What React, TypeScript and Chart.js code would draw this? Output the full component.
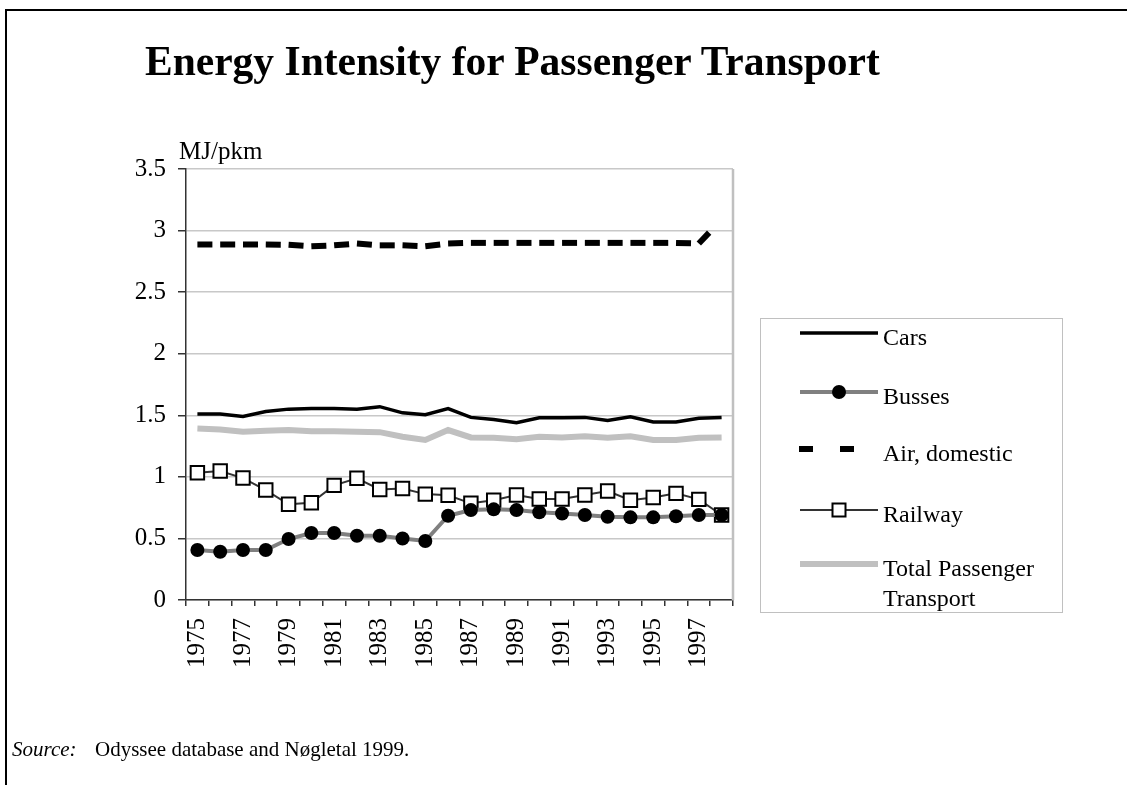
import React, { useEffect, useRef } from 'react';
import { Chart, registerables } from 'chart.js';

Chart.register(...registerables);

const SERIF = "'Liberation Serif', 'Times New Roman', serif";

const years = ['1975','1976','1977','1978','1979','1980','1981','1982','1983','1984','1985','1986','1987','1988','1989','1990','1991','1992','1993','1994','1995','1996','1997','1998'];

const seriesNames = ['Cars', 'Busses', 'Air, domestic', 'Railway', 'Total Passenger Transport'];

const cars = [1.51,1.51,1.49,1.53,1.55,1.555,1.555,1.55,1.57,1.52,1.505,1.555,1.483,1.466,1.44,1.48,1.48,1.483,1.458,1.488,1.445,1.445,1.475,1.483];
const busses = [0.406,0.392,0.406,0.406,0.495,0.544,0.544,0.522,0.522,0.5,0.479,0.684,0.73,0.736,0.73,0.712,0.703,0.69,0.676,0.671,0.671,0.68,0.69,0.69];
const airDomestic = [2.887,2.887,2.887,2.887,2.885,2.873,2.88,2.895,2.88,2.88,2.873,2.895,2.9,2.9,2.9,2.9,2.9,2.9,2.9,2.9,2.9,2.9,2.895,3.09];
const railway = [1.033,1.047,0.99,0.893,0.777,0.79,0.931,0.988,0.898,0.906,0.86,0.85,0.785,0.81,0.852,0.82,0.82,0.852,0.885,0.81,0.833,0.866,0.817,0.69];
const totalPassenger = [1.393,1.385,1.366,1.374,1.38,1.37,1.37,1.366,1.363,1.326,1.3,1.38,1.32,1.318,1.305,1.326,1.32,1.33,1.318,1.33,1.3,1.3,1.318,1.32];

const yMin = 0;
const yMax = 3.5;
const yStep = 0.5;

const legendRows = [333, 392, 449, 510, 564];

function wrapText(ctx: CanvasRenderingContext2D, text: string, maxW: number): string[] {
  const words = text.split(' ');
  const lines: string[] = [];
  let cur = '';
  for (const w of words) {
    const test = cur ? cur + ' ' + w : w;
    if (ctx.measureText(test).width > maxW && cur) {
      lines.push(cur);
      cur = w;
    } else cur = test;
  }
  if (cur) lines.push(cur);
  return lines;
}

const customPlugin = {
  id: 'customDeco',
  beforeDatasetsDraw(chart: any) {
    const { ctx, chartArea } = chart;
    ctx.save();
    ctx.strokeStyle = '#c0c0c0';
    ctx.lineWidth = 2.5;
    ctx.beginPath();
    ctx.moveTo(chartArea.right, chartArea.top);
    ctx.lineTo(chartArea.right, chartArea.bottom);
    ctx.stroke();
    ctx.restore();
  },
  afterDraw(chart: any) {
    const ctx: CanvasRenderingContext2D = chart.ctx;
    ctx.save();
    ctx.strokeStyle = '#c0c0c0';
    ctx.lineWidth = 1;
    ctx.strokeRect(760.5, 318.5, 302, 294);
    const x1 = 800;
    const x2 = 878;
    const xm = 839;
    chart.data.datasets.forEach((ds: any, i: number) => {
      const y = legendRows[i];
      ctx.save();
      ctx.strokeStyle = ds.borderColor;
      ctx.lineWidth = ds.borderWidth;
      ctx.lineCap = 'butt';
      if (ds.borderDash && ds.borderDash.length) {
        ctx.setLineDash([14, 27]);
        ctx.beginPath();
        ctx.moveTo(799, y);
        ctx.lineTo(x2, y);
        ctx.stroke();
      } else {
        ctx.beginPath();
        ctx.moveTo(x1, y);
        ctx.lineTo(x2, y);
        ctx.stroke();
      }
      ctx.setLineDash([]);
      if (ds.pointRadius > 0) {
        if (ds.pointStyle === 'rect') {
          ctx.fillStyle = ds.pointBackgroundColor;
          ctx.strokeStyle = ds.pointBorderColor;
          ctx.lineWidth = ds.pointBorderWidth;
          ctx.fillRect(xm - 6.5, y - 6.5, 13, 13);
          ctx.strokeRect(xm - 6.5, y - 6.5, 13, 13);
        } else {
          ctx.fillStyle = ds.pointBackgroundColor;
          ctx.beginPath();
          ctx.arc(xm, y, 7, 0, Math.PI * 2);
          ctx.fill();
        }
      }
      ctx.restore();
      ctx.fillStyle = '#000';
      ctx.font = `24px ${SERIF}`;
      ctx.textAlign = 'left';
      ctx.textBaseline = 'alphabetic';
      const lines = wrapText(ctx, ds.label, 170);
      lines.forEach((ln, k) => {
        ctx.fillText(ln, 883, y + 12 + k * 30);
      });
    });
    ctx.restore();
  },
};

export default function App() {
  const ref = useRef<HTMLCanvasElement>(null);

  useEffect(() => {
    document.body.style.margin = '0';
    const canvas = ref.current!;
    const chart = new Chart(canvas, {
      type: 'line',
      data: {
        labels: years,
        datasets: [
          {
            label: seriesNames[0],
            data: cars,
            borderColor: '#000000',
            backgroundColor: '#000000',
            borderWidth: 3.5,
            pointRadius: 0,
            tension: 0,
            order: 3,
          },
          {
            label: seriesNames[1],
            data: busses,
            borderColor: '#808080',
            backgroundColor: '#000000',
            borderWidth: 4,
            pointRadius: 7,
            pointStyle: 'circle',
            pointBackgroundColor: '#000000',
            pointBorderColor: '#000000',
            pointBorderWidth: 0,
            tension: 0,
            order: 0,
          },
          {
            label: seriesNames[2],
            data: airDomestic,
            borderColor: '#000000',
            backgroundColor: '#000000',
            borderWidth: 6,
            borderDash: [15, 40],
            pointRadius: 0,
            tension: 0,
            order: 2,
            segment: {
              // restart the dash pattern on every segment
              borderDashOffset: (c: any) => (c.p0DataIndex % 2 ? 0.0001 : 0),
            },
          },
          {
            label: seriesNames[3],
            data: railway,
            borderColor: '#333333',
            backgroundColor: '#ffffff',
            borderWidth: 2,
            pointRadius: 9.5,
            pointStyle: 'rect',
            pointBackgroundColor: '#ffffff',
            pointBorderColor: '#000000',
            pointBorderWidth: 2,
            tension: 0,
            order: 1,
          },
          {
            label: seriesNames[4],
            data: totalPassenger,
            borderColor: '#c0c0c0',
            backgroundColor: '#c0c0c0',
            borderWidth: 6,
            pointRadius: 0,
            tension: 0,
            order: 4,
          },
        ],
      },
      options: {
        responsive: false,
        animation: false,
        layout: { padding: { left: 0, top: 169, right: 394, bottom: 0 } },
        plugins: {
          legend: { display: false },
          title: { display: false },
          tooltip: { enabled: false },
        },
        scales: {
          x: {
            type: 'category',
            offset: true,
            grid: {
              display: true,
              drawOnChartArea: false,
              offset: true,
              tickLength: 6,
              tickColor: '#333333',
              lineWidth: 1.5,
            },
            border: { display: true, color: '#333333', width: 1.5 },
            ticks: {
              autoSkip: false,
              maxRotation: 90,
              minRotation: 90,
              padding: 12,
              color: '#000000',
              font: { family: SERIF, size: 25 },
              callback: function (this: any, _v: any, index: number) {
                return index % 2 === 0 ? years[index] : '';
              },
            },
            afterFit: (scale: any) => {
              scale.height = 185;
            },
          },
          y: {
            min: yMin,
            max: yMax,
            grid: {
              color: '#c8c8c8',
              lineWidth: 1.5,
              tickLength: 8,
              tickColor: '#333333',
            },
            border: { display: true, color: '#333333', width: 1.5 },
            ticks: {
              stepSize: yStep,
              padding: 12,
              color: '#000000',
              font: { family: SERIF, size: 25 },
              callback: (v: any) => String(Math.round(Number(v) * 10) / 10),
            },
            afterFit: (scale: any) => {
              scale.width = 186;
            },
          },
        },
      },
      plugins: [customPlugin],
    } as any);
    return () => chart.destroy();
  }, []);

  return (
    <div style={{ position: 'absolute', left: 0, top: 0, width: 1127, height: 785, overflow: 'hidden', background: '#ffffff' }}>
      <div
        style={{
          position: 'absolute',
          left: 5,
          top: 9,
          right: 0,
          bottom: 0,
          borderTop: '2px solid #000',
          borderLeft: '2px solid #000',
        }}
      />
      <canvas ref={ref} width={1127} height={785} style={{ position: 'absolute', left: 0, top: 0, width: 1127, height: 785 }} />
      <div
        style={{
          position: 'absolute',
          left: 145,
          top: 41,
          fontFamily: SERIF,
          fontWeight: 'bold',
          fontSize: 41.5,
          lineHeight: '41px',
          whiteSpace: 'nowrap',
          color: '#000',
        }}
      >
        Energy Intensity for Passenger Transport
      </div>
      <div
        style={{
          position: 'absolute',
          left: 179,
          top: 138,
          fontFamily: SERIF,
          fontSize: 25,
          lineHeight: '25px',
          whiteSpace: 'nowrap',
          color: '#000',
        }}
      >
        MJ/pkm
      </div>
      <div
        style={{
          position: 'absolute',
          left: 12,
          top: 739,
          fontFamily: SERIF,
          fontSize: 21,
          lineHeight: '21px',
          whiteSpace: 'nowrap',
          color: '#000',
        }}
      >
        <i>Source:</i>
        <span style={{ position: 'absolute', left: 83, top: 0 }}>Odyssee database and Nøgletal 1999.</span>
      </div>
    </div>
  );
}
